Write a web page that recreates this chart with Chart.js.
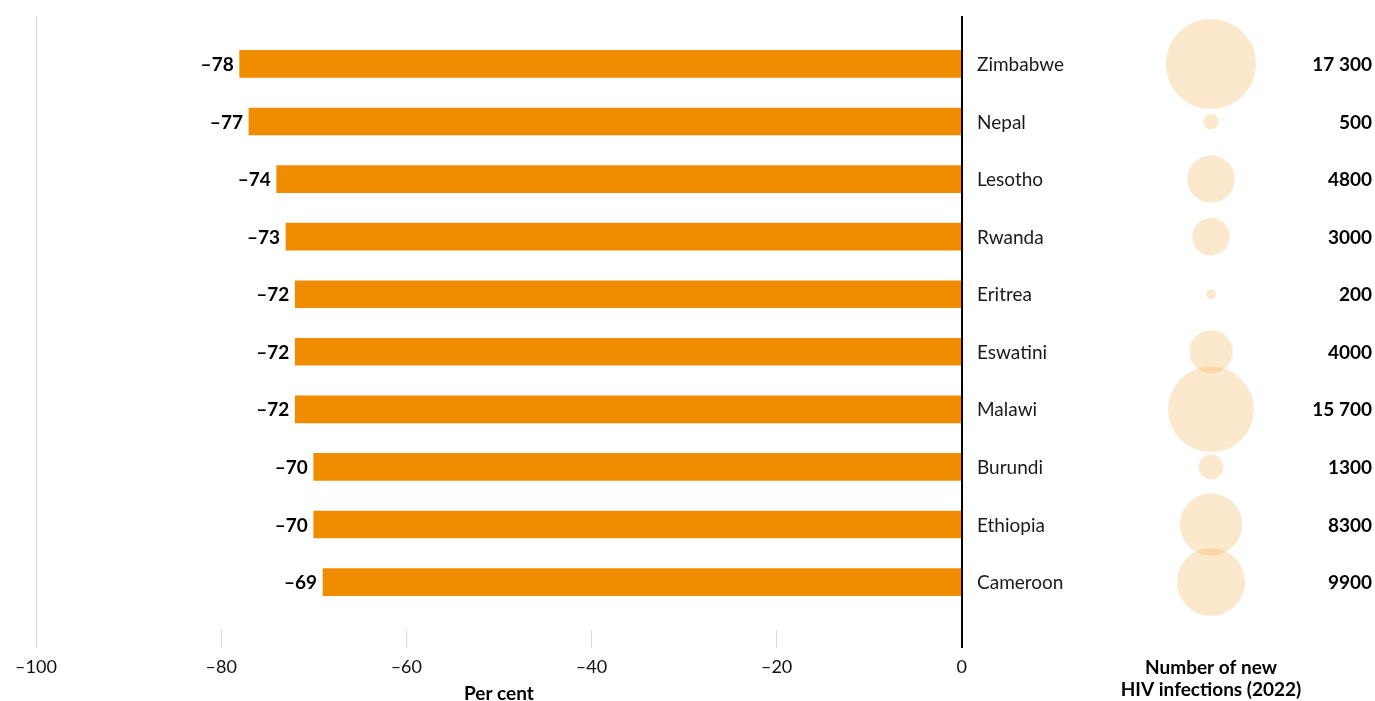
<!DOCTYPE html>
<html>
<head>
<meta charset="utf-8">
<script src="https://cdn.jsdelivr.net/npm/chart.js@4.4.1/dist/chart.umd.min.js"></script>
<style>
    html, body { margin: 0; padding: 0; background: #fff; }
    #wrap { position: relative; width: 1375px; height: 701px; }
    .box { position: absolute; top: 0; height: 701px; }
    #bar-box { left: 0; width: 975px; }
    #bubble-box { left: 963px; width: 412px; }
</style>
</head>
<body>
<div id="wrap">
    <div class="box" id="bar-box"><canvas id="bar-chart"></canvas></div>
    <div class="box" id="bubble-box"><canvas id="bubble-chart"></canvas></div>
</div>
<script>
const countries = ['Zimbabwe', 'Nepal', 'Lesotho', 'Rwanda', 'Eritrea', 'Eswatini', 'Malawi', 'Burundi', 'Ethiopia', 'Cameroon'];
const changePct = [-78, -77, -74, -73, -72, -72, -72, -70, -70, -69];
const newInfections = [17300, 500, 4800, 3000, 200, 4000, 15700, 1300, 8300, 9900];
const xTicks = [-100, -80, -60, -40, -20, 0];
const bubbleLabel = ['Number of new', 'HIV infections (2022)'];

const ORANGE = '#f08c00';
const BUBBLE = 'rgba(242, 140, 0, 0.2)';
const FONT = 'Lato, "Noto Sans", sans-serif';
const AXIS_H = 71;
const MAX_R = 45;

Chart.defaults.font.family = FONT;
Chart.defaults.color = '#111';

// one row per country, same vertical layout in both panels
function rowScale() {
    return {
        type: 'linear',
        reverse: true,
        offset: false,
        min: -0.833,
        max: 9.833,
        display: false,
    };
}

function dash(v) {
    return String(v).replace('-', '\u2013');
}

function fmtThousands(v) {
    // 17300 -> "17 300", but 4800 stays "4800"
    if (v < 10000) {
        return String(v);
    }
    return String(v).replace(/\B(?=(\d{3})+(?!\d))/g, ' ');
}

const barLabels = {
    id: 'barLabels',
    afterDatasetsDraw(chart) {
        const { ctx } = chart;
        const meta = chart.getDatasetMeta(0);
        ctx.save();
        ctx.font = 'bold 19px ' + FONT;
        ctx.fillStyle = '#000';
        ctx.textAlign = 'right';
        ctx.textBaseline = 'middle';
        meta.data.forEach((bar, i) => {
            ctx.fillText(dash(changePct[i]), bar.x - 6, bar.y + 1);
        });
        ctx.restore();
    },
};

new Chart(document.getElementById('bar-chart'), {
    type: 'bar',
    data: {
        datasets: [{
            data: countries.map((c, i) => ({ x: changePct[i], y: i })),
            backgroundColor: ORANGE,
            borderWidth: 0,
            barThickness: 27,
        }],
    },
    options: {
        indexAxis: 'y',
        responsive: true,
        maintainAspectRatio: false,
        animation: false,
        layout: { padding: { top: 16, left: 36, right: 10, bottom: 0 } },
        plugins: { legend: { display: false }, tooltip: { enabled: false } },
        scales: {
            x: {
                type: 'linear',
                min: -100,
                max: 0,
                afterBuildTicks(scale) {
                    scale.ticks = xTicks.map((v) => ({ value: v }));
                },
                afterFit(scale) {
                    scale.height = AXIS_H;
                },
                ticks: {
                    callback: (v) => dash(v),
                    color: '#111',
                    font: { size: 18 },
                    padding: 8,
                    maxRotation: 0,
                },
                grid: {
                    drawOnChartArea: true,
                    tickLength: 18,
                    color(ctx) {
                        const v = ctx.tick && ctx.tick.value;
                        if (v === 0) return '#000';
                        if (v === -100) return '#d9d9d9';
                        return 'rgba(0,0,0,0)';
                    },
                    tickColor(ctx) {
                        return ctx.tick && ctx.tick.value === 0 ? '#000' : '#d9d9d9';
                    },
                    lineWidth(ctx) {
                        return ctx.tick && ctx.tick.value === 0 ? 2 : 1;
                    },
                },
                border: { display: false },
                title: {
                    display: true,
                    text: 'Per cent',
                    color: '#000',
                    font: { size: 19, weight: 'bold' },
                    padding: { top: 0, bottom: -4 },
                },
            },
            y: rowScale(),
        },
    },
    plugins: [barLabels],
});

const sideLabels = {
    id: 'sideLabels',
    afterDatasetsDraw(chart) {
        const { ctx, scales } = chart;
        ctx.save();
        ctx.textBaseline = 'middle';
        countries.forEach((name, i) => {
            const y = scales.y.getPixelForValue(i);
            ctx.font = '19px ' + FONT;
            ctx.fillStyle = '#1a1a1a';
            ctx.textAlign = 'left';
            ctx.fillText(name, 14, y + 1);
            ctx.font = 'bold 19px ' + FONT;
            ctx.fillStyle = '#000';
            ctx.textAlign = 'right';
            ctx.fillText(fmtThousands(newInfections[i]), chart.width - 3, y + 1);
        });
        ctx.restore();
    },
};

const maxInf = Math.max(...newInfections);

new Chart(document.getElementById('bubble-chart'), {
    type: 'bubble',
    data: {
        labels: [bubbleLabel],
        datasets: [{
            data: countries.map((c, i) => ({ x: 0, y: i })),
            backgroundColor: BUBBLE,
            borderWidth: 0,
            radius: (ctx) => MAX_R * Math.sqrt(newInfections[ctx.dataIndex] / maxInf),
            clip: false,
        }],
    },
    options: {
        responsive: true,
        maintainAspectRatio: false,
        animation: false,
        layout: { autoPadding: false, padding: { top: 16, left: 130, right: 46, bottom: 0 } },
        plugins: { legend: { display: false }, tooltip: { enabled: false } },
        scales: {
            x: {
                type: 'category',
                offset: true,
                afterFit(scale) {
                    scale.height = AXIS_H;
                },
                grid: { display: false, drawTicks: false },
                border: { display: false },
                ticks: {
                    color: '#000',
                    font: { size: 19, weight: 'bold', lineHeight: 1.15 },
                    padding: 27,
                    maxRotation: 0,
                    autoSkip: false,
                },
            },
            y: rowScale(),
        },
    },
    plugins: [sideLabels],
});
</script>
</body>
</html>
